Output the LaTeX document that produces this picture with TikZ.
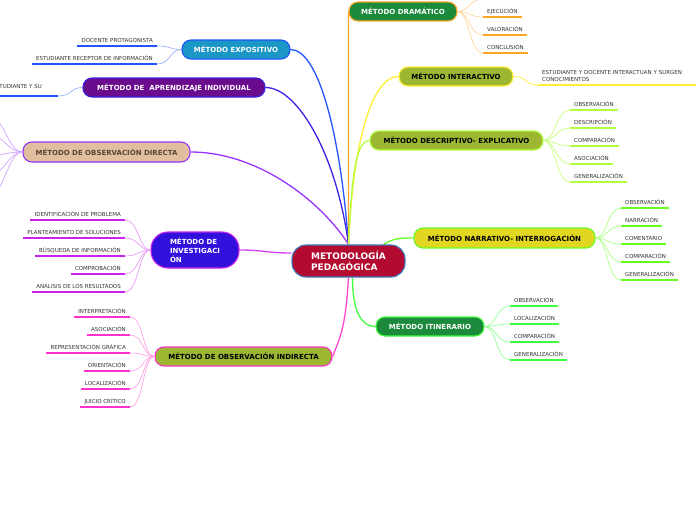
\documentclass[tikz,border=0pt]{standalone}
\usepackage{fontspec}
\setmainfont{DejaVu Sans}
\usepackage{xcolor}
\usepackage{tikz}
\usetikzlibrary{positioning,calc,backgrounds}

\definecolor{hubred}{HTML}{B30B2F}
\definecolor{hubblue}{HTML}{3B7BBF}
\definecolor{expofill}{HTML}{1B97C5}
\definecolor{expoblue}{HTML}{2255FF}
\definecolor{indivfill}{HTML}{6A0A8D}
\definecolor{indivblue}{HTML}{3A22E8}
\definecolor{dirfill}{HTML}{E1BE9D}
\definecolor{dirviolet}{HTML}{9933FF}
\definecolor{dirtext}{HTML}{5A4634}
\definecolor{invfill}{HTML}{3311DD}
\definecolor{invmag}{HTML}{CC22EE}
\definecolor{olivo}{HTML}{9DB733}
\definecolor{indmag}{HTML}{FF33CC}
\definecolor{dramgreen}{HTML}{1B8A3B}
\definecolor{dramorange}{HTML}{FFA526}
\definecolor{intyellow}{HTML}{FFEE33}
\definecolor{desclime}{HTML}{B0FF40}
\definecolor{narrfill}{HTML}{E1D620}
\definecolor{narrgreen}{HTML}{66FF22}
\definecolor{itingreen}{HTML}{3DFF3D}
\definecolor{hojagris}{HTML}{333333}

\tikzset{
  metodo/.style={rectangle,draw,rounded corners=9pt,line width=1.1pt,minimum height=19pt,inner sep=2pt,align=center,font=\fontsize{7}{9}\selectfont\bfseries},
  hoja/.style={inner xsep=4pt,inner ysep=3.5pt,text height=4pt,text depth=0pt,text=hojagris,font=\fontsize{5.5}{7}\selectfont},
  rama/.style={line width=1.3pt},
  subrama/.style={line width=0.7pt},
  raya/.style={line width=1.8pt}
}

\begin{document}
\begin{tikzpicture}[x=1pt,y=-1pt]
    \useasboundingbox (0,0) rectangle (696,520);
    \clip (0,0) rectangle (696,520);

    % centro
    \node[metodo,fill=hubred,draw=hubblue,text=white,rounded corners=14pt,minimum width=113pt,minimum height=32pt,align=left,font=\fontsize{9}{11}\selectfont\bfseries] (hub) at (348.5,261) {METODOLOGÍA\\PEDAGÓGICA};

    % metodos izquierda
    \node[metodo,fill=expofill,draw=expoblue,text=white,minimum width=108pt] (expo) at (236,49.5) {MÉTODO EXPOSITIVO};
    \node[metodo,fill=indivfill,draw=indivblue,text=white,minimum width=182pt] (indiv) at (174,87.5) {MÉTODO DE\ \ APRENDIZAJE INDIVIDUAL};
    \node[metodo,fill=dirfill,draw=dirviolet,text=dirtext,minimum width=167pt,minimum height=20pt] (directa) at (106.5,152) {MÉTODO DE OBSERVACIÓN DIRECTA};
    \node[metodo,fill=invfill,draw=invmag,text=white,rounded corners=17pt,minimum width=88pt,minimum height=36pt,align=left] (invest) at (195,250) {MÉTODO DE\\INVESTIGACI\\ÓN};
    \node[metodo,fill=olivo,draw=indmag,text=black,minimum width=177pt] (indirecta) at (243.5,356.5) {MÉTODO DE OBSERVACIÓN INDIRECTA};

    % metodos derecha
    \node[metodo,fill=dramgreen,draw=dramorange,text=white,minimum width=108pt] (drama) at (403,11.5) {MÉTODO DRAMÁTICO};
    \node[metodo,fill=olivo,draw=intyellow,text=black,minimum width=114pt] (inter) at (456,76.5) {MÉTODO INTERACTIVO};
    \node[metodo,fill=olivo,draw=desclime,text=black,minimum width=173pt] (desc) at (456.5,140.5) {MÉTODO DESCRIPTIVO- EXPLICATIVO};
    \node[metodo,fill=narrfill,draw=narrgreen,text=black,minimum width=181pt,minimum height=20pt] (narr) at (504.5,238) {MÉTODO NARRATIVO- INTERROGACIÓN};
    \node[metodo,fill=dramgreen,draw=itingreen,text=white,minimum width=108pt] (itin) at (430,326.5) {MÉTODO ITINERARIO};

    \begin{scope}[on background layer]
    % ramas al centro
    \draw[rama,expoblue] (expo.east) .. controls +(28,0) and +(-8,-110) .. (hub.north);
    \draw[rama,indivblue] (indiv.east) .. controls +(32,0) and +(-12,-90) .. (hub.north);
    \draw[rama,dirviolet] (directa.east) .. controls +(70,0) and +(-25,-40) .. (hub.north);
    \draw[rama,invmag!85!white] (invest.east) .. controls +(25,0) and +(-25,0) .. ([yshift=8pt]hub.west);
    \draw[rama,indmag!90!white] (hub.south) .. controls +(-3,50) and +(8,-20) .. (indirecta.east);
    \draw[rama,dramorange] (hub.north) -- (drama.west);
    \draw[rama,intyellow] (hub.north) .. controls +(5,-110) and +(-25,0) .. (inter.west);
    \draw[rama,desclime] (hub.north) .. controls +(3,-60) and +(-15,0) .. (desc.west);
    \draw[rama,narrgreen] ([xshift=-22pt]hub.north east) .. controls +(10,-6) and +(-15,0) .. (narr.west);
    \draw[rama,itingreen] ([xshift=4pt]hub.south) .. controls +(0,32) and +(-15,0) .. (itin.west);
    \end{scope}

    % hojas: expositivo
    \foreach \txt/\y [count=\i] in {DOCENTE PROTAGONISTA/46,ESTUDIANTE RECEPTOR DE INFORMACIÓN/64}{
      \node[hoja,anchor=south east] (exp\i) at (157,\y) {\txt};
      \draw[raya,expoblue] (exp\i.south west) -- (exp\i.south east);
      \draw[subrama,expoblue!45] (exp\i.south east) .. controls +(14,0) and +(-12,0) .. (expo.west);
    }

    % hojas: aprendizaje individual
    \node[hoja,anchor=south east,inner xsep=0pt] (ind1) at (42,92.5) {ESTUDIANTE Y SU};
    \coordinate (ind1raya) at (58,96);
    \draw[raya,expoblue] (ind1raya) -- +(-70,0);
    \draw[subrama,expoblue!45] (ind1raya) .. controls +(14,0) and +(-12,0) .. (indiv.west);

    % hojas: observacion directa (fuera del margen)
    \foreach \y [count=\i] in {118,136,155,174,193}{
      \coordinate (od\i) at (-8,\y);
      \draw[subrama,dirviolet!45] (directa.west) .. controls +(-14,0) and +(12,0) .. (od\i);
    }

    % hojas: investigacion
    \foreach \txt/\y [count=\i] in {IDENTIFICACIÓN DE PROBLEMA/220,PLANTEAMIENTO DE SOLUCIONES/238,BÚSQUEDA DE INFORMACIÓN/256,COMPROBACIÓN/274,ANÁLISIS DE LOS RESULTADOS/292}{
      \node[hoja,anchor=south east] (inv\i) at (125,\y) {\txt};
      \draw[raya,invmag] (inv\i.south west) -- (inv\i.south east);
      \draw[subrama,invmag!45] (inv\i.south east) .. controls +(14,0) and +(-12,0) .. (invest.west);
    }

    % hojas: observacion indirecta
    \foreach \txt/\y [count=\i] in {INTERPRETACIÓN/317,ASOCIACIÓN/335,REPRESENTACIÓN GRÁFICA/353,ORIENTACIÓN/371,LOCALIZACIÓN/389,JUICIO CRÍTICO/407}{
      \node[hoja,anchor=south east] (oi\i) at (130,\y) {\txt};
      \draw[raya,indmag] (oi\i.south west) -- (oi\i.south east);
      \draw[subrama,indmag!45] (oi\i.south east) .. controls +(14,0) and +(-12,0) .. (indirecta.west);
    }

    % hojas: dramatico
    \coordinate (dra0) at (483,-1);
    \draw[raya,dramorange] (dra0) -- +(54,0);
    \draw[subrama,dramorange!45] (drama.east) .. controls +(12,0) and +(-14,0) .. (dra0);
    \foreach \txt/\y [count=\i] in {EJECUCIÓN/17,VALORACIÓN/35,CONCLUSIÓN/53}{
      \node[hoja,anchor=south west] (dra\i) at (483,\y) {\txt};
      \draw[raya,dramorange] (dra\i.south west) -- (dra\i.south east);
      \draw[subrama,dramorange!45] (drama.east) .. controls +(12,0) and +(-14,0) .. (dra\i.south west);
    }

    % hojas: interactivo
    \node[hoja,anchor=south west,text depth=7pt,text width=150pt,align=left] (int1) at (538,85) {ESTUDIANTE Y DOCENTE INTERACTUAN Y SURGEN\\CONOCIMIENTOS};
    \draw[raya,intyellow] (int1.south west) -- (int1.south east);
    \draw[subrama,intyellow] (inter.east) .. controls +(14,0) and +(-14,0) .. (int1.south west);

    % hojas: descriptivo
    \foreach \txt/\y [count=\i] in {OBSERVACIÓN/110,DESCRIPCIÓN/128,COMPARACIÓN/146,ASOCIACIÓN/164,GENERALIZACIÓN/182}{
      \node[hoja,anchor=south west] (des\i) at (570,\y) {\txt};
      \draw[raya,desclime] (des\i.south west) -- (des\i.south east);
      \draw[subrama,desclime!70] (desc.east) .. controls +(12,0) and +(-14,0) .. (des\i.south west);
    }

    % hojas: narrativo
    \foreach \txt/\y [count=\i] in {OBSERVACIÓN/208,NARRACIÓN/226,COMENTARIO/244,COMPARACIÓN/262,GENERALIZACIÓN/280}{
      \node[hoja,anchor=south west] (nar\i) at (621,\y) {\txt};
      \draw[raya,narrgreen] (nar\i.south west) -- (nar\i.south east);
      \draw[subrama,narrgreen!55] (narr.east) .. controls +(12,0) and +(-14,0) .. (nar\i.south west);
    }

    % hojas: itinerario
    \foreach \txt/\y [count=\i] in {OBSERVACIÓN/306,LOCALIZACIÓN/324,COMPARACIÓN/342,GENERALIZACIÓN/360}{
      \node[hoja,anchor=south west] (iti\i) at (510,\y) {\txt};
      \draw[raya,itingreen] (iti\i.south west) -- (iti\i.south east);
      \draw[subrama,itingreen!55] (itin.east) .. controls +(12,0) and +(-14,0) .. (iti\i.south west);
    }
\end{tikzpicture}
\end{document}
